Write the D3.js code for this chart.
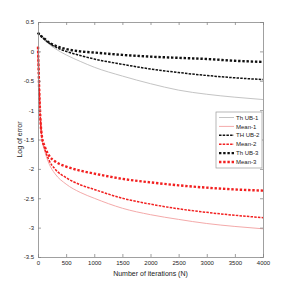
<!DOCTYPE html>
<html>
<head>
<meta charset="utf-8">
<script src="https://cdn.jsdelivr.net/npm/d3@7"></script>
<style>
  body { margin: 0; background: #fff; }
  svg text { font-family: "Liberation Sans Narrow", "Liberation Sans", Arial, sans-serif; fill: #222; }
</style>
</head>
<body>
<svg id="chart" width="291" height="291"></svg>
<script>
var iters = [0, 20, 40, 70, 120, 200, 300, 500, 750, 1000, 1500, 2000, 2500, 3000, 3500, 4000];
var thUB1 = [0.32, 0.29, 0.27, 0.24, 0.19, 0.12, 0.05, -0.06, -0.17, -0.27, -0.42, -0.55, -0.66, -0.73, -0.78, -0.82];
var thUB2 = [0.32, 0.29, 0.27, 0.25, 0.20, 0.14, 0.08, 0.0, -0.07, -0.13, -0.22, -0.30, -0.36, -0.41, -0.45, -0.48];
var thUB3 = [0.32, 0.29, 0.27, 0.25, 0.21, 0.15, 0.10, 0.04, 0.0, -0.02, -0.06, -0.09, -0.11, -0.13, -0.16, -0.18];
var mean1 = [0.08, -0.6, -1.1, -1.48, -1.70, -1.92, -2.08, -2.26, -2.40, -2.50, -2.67, -2.78, -2.86, -2.93, -2.98, -3.02];
var mean2 = [0.08, -0.6, -1.1, -1.47, -1.66, -1.86, -2.00, -2.15, -2.27, -2.35, -2.50, -2.60, -2.68, -2.74, -2.79, -2.83];
var mean3 = [0.08, -0.6, -1.1, -1.45, -1.62, -1.78, -1.87, -1.96, -2.03, -2.08, -2.17, -2.23, -2.28, -2.32, -2.35, -2.37];
var xTicks = [0, 500, 1000, 1500, 2000, 2500, 3000, 3500, 4000];
var yTicks = [0.5, 0, -0.5, -1, -1.5, -2, -2.5, -3, -3.5];
var legendNames = ["Th UB-1", "Mean-1", "TH UB-2", "Mean-2", "Th UB-3", "Mean-3"];

var svg = d3.select("#chart");
var plotL = 38, plotR = 263, plotT = 22, plotB = 257;

var x = d3.scaleLinear().domain([0, 4000]).range([plotL, plotR]);
var y = d3.scaleLinear().domain([-3.5, 0.5]).range([plotB, plotT]);

// series drawn in legend order, styles roughly like the matlab figure
var series = [
  {vals: thUB1, color: "#c4c4c4", width: 1, dash: null},
  {vals: mean1, color: "#f4aaaa", width: 1, dash: null},
  {vals: thUB2, color: "#111", width: 1.5, dash: "2.5,1.2"},
  {vals: mean2, color: "#f22020", width: 1.5, dash: "2.5,1.2"},
  {vals: thUB3, color: "#111", width: 2.4, dash: "2.4,1.8"},
  {vals: mean3, color: "#f22020", width: 2.4, dash: "2.4,1.8"}
];

var line = d3.line()
  .x(function(d) { return x(d[0]); })
  .y(function(d) { return y(d[1]); })
  .curve(d3.curveMonotoneX);

series.forEach(function(s) {
  svg.append("path")
    .datum(iters.map(function(n, i) { return [n, s.vals[i]]; }))
    .attr("d", line)
    .attr("fill", "none")
    .attr("stroke", s.color)
    .attr("stroke-width", s.width)
    .attr("stroke-dasharray", s.dash);
});

// box axes with inward ticks
var axisColor = "#888";
var yFmt = function(d) { return String(d); }; // plain hyphen minus like matlab
var xb = svg.append("g").attr("transform", "translate(0," + plotB + ")")
  .call(d3.axisBottom(x).tickValues(xTicks).tickSize(-3).tickPadding(5).tickFormat(d3.format("d")));
var xt = svg.append("g").attr("transform", "translate(0," + plotT + ")")
  .call(d3.axisTop(x).tickValues(xTicks).tickSize(-3).tickFormat(""));
var yl = svg.append("g").attr("transform", "translate(" + plotL + ",0)")
  .call(d3.axisLeft(y).tickValues(yTicks).tickSize(-3).tickPadding(4).tickFormat(yFmt));
var yr = svg.append("g").attr("transform", "translate(" + plotR + ",0)")
  .call(d3.axisRight(y).tickValues(yTicks).tickSize(-3).tickFormat(""));

[xb, xt, yl, yr].forEach(function(g) {
  g.selectAll("path.domain").attr("stroke", axisColor).attr("stroke-width", 0.8);
  g.selectAll(".tick line").attr("stroke", axisColor).attr("stroke-width", 0.8);
  g.selectAll(".tick text").attr("font-size", 6).attr("fill", "#333")
    .style("font-family", "'Liberation Sans Narrow', 'Liberation Sans', Arial, sans-serif");
});
xb.selectAll(".tick text").attr("dy", "0.5em");

// axis titles
svg.append("text")
  .attr("x", (plotL + plotR) / 2).attr("y", 276)
  .attr("text-anchor", "middle").attr("font-size", 7)
  .text("Number of iterations (N)");
svg.append("text")
  .attr("transform", "translate(22," + ((plotT + plotB) / 2) + ") rotate(-90)")
  .attr("text-anchor", "middle").attr("font-size", 7)
  .text("Log of error");

// legend
var lg = svg.append("g").attr("transform", "translate(216,112)");
lg.append("rect").attr("width", 46).attr("height", 56)
  .attr("fill", "#fff").attr("stroke", "#999").attr("stroke-width", 0.7);
legendNames.forEach(function(name, i) {
  var s = series[i];
  var yy = 5.5 + i * 8.9;
  lg.append("line")
    .attr("x1", 3).attr("x2", 18).attr("y1", yy).attr("y2", yy)
    .attr("stroke", s.color).attr("stroke-width", s.width)
    .attr("stroke-dasharray", s.dash);
  lg.append("text")
    .attr("x", 20).attr("y", yy).attr("dy", "0.35em")
    .attr("font-size", 6).text(name);
});
</script>
</body>
</html>
